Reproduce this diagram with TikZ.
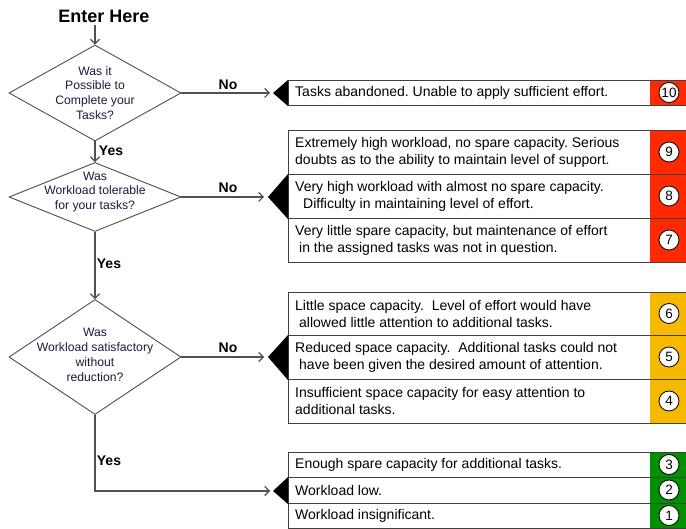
\documentclass[tikz,border=0pt]{standalone}
\usepackage{fontspec}
\setmainfont{Liberation Sans}
\usetikzlibrary{shapes.geometric,arrows.meta}
\definecolor{lvred}{RGB}{255,42,0}
\definecolor{lvorange}{RGB}{247,184,0}
\definecolor{lvgreen}{RGB}{0,145,0}
\definecolor{qtext}{RGB}{28,28,60}
\definecolor{conn}{RGB}{80,80,80}
\frenchspacing
\begin{document}
\begin{tikzpicture}[x=1pt,y=-1pt,
  question/.style={diamond, draw=conn, line width=0.9pt, inner sep=0pt, minimum width=172pt},
  qtxt/.style={align=center, text=qtext, inner sep=0pt, font=\fontsize{12.2}{14.8}\selectfont},
  flow/.style={draw=conn, line width=1.2pt, -{Straight Barb[length=4.5pt,width=9pt]}},
  lab/.style={font=\bfseries\fontsize{14}{14}\selectfont, inner sep=0pt},
  row/.style={draw=black!75, line width=1.1pt, anchor=north west, minimum width=402pt, inner sep=0pt},
  cell/.style={anchor=north west, minimum width=40pt, inner sep=0pt},
  rowtext/.style={anchor=west, align=left, inner sep=0pt, font=\fontsize{14}{17}\selectfont},
  num/.style={circle, draw=black, fill=white, line width=0.8pt, minimum size=20pt, inner sep=0pt, font=\fontsize{13.5}{13.5}\selectfont},
  tri/.style={fill=black}
]
\clip (0,0) rectangle (686,529);
\fill[white] (0,0) rectangle (686,529);

% entry
\node[font=\bfseries\fontsize{18}{18}\selectfont, inner sep=0pt] (enter) at (104,16.5) {Enter Here};

% decisions
\node[question, minimum height=96pt] (d1) at (95,93) {};
\node[qtxt] (d1t) at (d1.center) {Was it\\Possible to\\Complete your\\Tasks?};
\node[question, minimum height=69pt] (d2) at (95,197) {};
\node[qtxt] (d2t) at (95,192) {Was\\Workload tolerable\\for your tasks?};
\node[question, minimum height=115pt] (d3) at (95,357) {};
\node[qtxt] (d3t) at (95,355) {Was\\Workload satisfactory\\without\\reduction?};

% colour cells
\node[cell, fill=lvred, minimum height=25pt] (c10) at (650,80) {};
\node[cell, fill=lvred, minimum height=44pt] (c9) at (650,130) {};
\node[cell, fill=lvred, minimum height=44pt] (c8) at (650,174) {};
\node[cell, fill=lvred, minimum height=44pt] (c7) at (650,218) {};
\node[cell, fill=lvorange, minimum height=43pt] (c6) at (650,292) {};
\node[cell, fill=lvorange, minimum height=44pt] (c5) at (650,335) {};
\node[cell, fill=lvorange, minimum height=44pt] (c4) at (650,379) {};
\node[cell, fill=lvgreen, minimum height=25pt] (c3) at (650,452) {};
\node[cell, fill=lvgreen, minimum height=26pt] (c2) at (650,477) {};
\node[cell, fill=lvgreen, minimum height=25pt] (c1) at (650,503) {};

% rows
\node[row, minimum height=25pt] (r10) at (288,80) {};
\node[row, minimum height=44pt] (r9) at (288,130) {};
\node[row, minimum height=44pt] (r8) at (288,174) {};
\node[row, minimum height=44pt] (r7) at (288,218) {};
\node[row, minimum height=43pt] (r6) at (288,292) {};
\node[row, minimum height=44pt] (r5) at (288,335) {};
\node[row, minimum height=44pt] (r4) at (288,379) {};
\node[row, minimum height=25pt] (r3) at (288,452) {};
\node[row, minimum height=26pt] (r2) at (288,477) {};
\node[row, minimum height=25pt] (r1) at (288,503) {};

% row texts
\node[rowtext] (t10) at (295,92.5) {Tasks abandoned. Unable to apply sufficient effort.};
\node[rowtext] (t9) at (295,152.5) {Extremely high workload, no spare capacity. Serious\\doubts as to the ability to maintain level of support.};
\node[rowtext] (t8) at (295,196.5) {Very high workload with almost no spare capacity.\\\hspace*{8pt}Difficulty in maintaining level of effort.};
\node[rowtext] (t7) at (295,240.5) {Very little spare capacity, but maintenance of effort\\\hspace*{4pt}in the assigned tasks was not in question.};
\node[rowtext] (t6) at (295,313.5) {Little space capacity.\ \ Level of effort would have\\\hspace*{4pt}allowed little attention to additional tasks.};
\node[rowtext] (t5) at (295,357) {Reduced space capacity.\ \ Additional tasks could not\\\hspace*{4pt}have been given the desired amount of attention.};
\node[rowtext] (t4) at (295,401) {Insufficient space capacity for easy attention to\\additional tasks.};
\node[rowtext] (t3) at (295,464.5) {Enough spare capacity for additional tasks.};
\node[rowtext] (t2) at (295,490) {Workload low.};
\node[rowtext] (t1) at (295,515.5) {Workload insignificant.};

% number circles
\node[num] (n10) at (669,92.5) {10};
\node[num] (n9) at (669,152) {9};
\node[num] (n8) at (669,196) {8};
\node[num] (n7) at (669,240) {7};
\node[num] (n6) at (669,313.5) {6};
\node[num] (n5) at (669,357) {5};
\node[num] (n4) at (669,401) {4};
\node[num] (n3) at (669,464.5) {3};
\node[num] (n2) at (669,490) {2};
\node[num] (n1) at (669,515.5) {1};

% black pointers
\coordinate (tip10) at (273,93);
\coordinate (tip8) at (268,197);
\coordinate (tip5) at (268,357);
\coordinate (tip2) at (273,491);
\fill[tri] (r10.north west) -- (tip10) -- (r10.south west) -- cycle;
\fill[tri] (r8.north west) -- (tip8) -- (r8.south west) -- cycle;
\fill[tri] (r5.north west) -- (tip5) -- (r5.south west) -- cycle;
\fill[tri] (r2.north west) -- (tip2) -- (r2.south west) -- cycle;

% connectors
\draw[flow] (enter.south -| d1.north) ++(0,2) -- (d1.north);
\draw[flow, shorten >=3pt] (d1.east) -- (tip10);
\draw[flow] (d1.south) -- (d2.north);
\draw[flow, shorten >=4pt] (d2.east) -- (tip8);
\draw[flow] (d2.south) -- (d3.north);
\draw[flow, shorten >=4pt] (d3.east) -- (tip5);
\draw[flow, shorten >=3pt] (d3.south) |- (tip2);

% labels
\node[lab] (no1) at (228,85) {No};
\node[lab] (no2) at (228,188) {No};
\node[lab] (no3) at (228,348) {No};
\node[lab] (yes1) at (111,151) {Yes};
\node[lab] (yes2) at (109,264) {Yes};
\node[lab] (yes3) at (109,461) {Yes};
\end{tikzpicture}
\end{document}
